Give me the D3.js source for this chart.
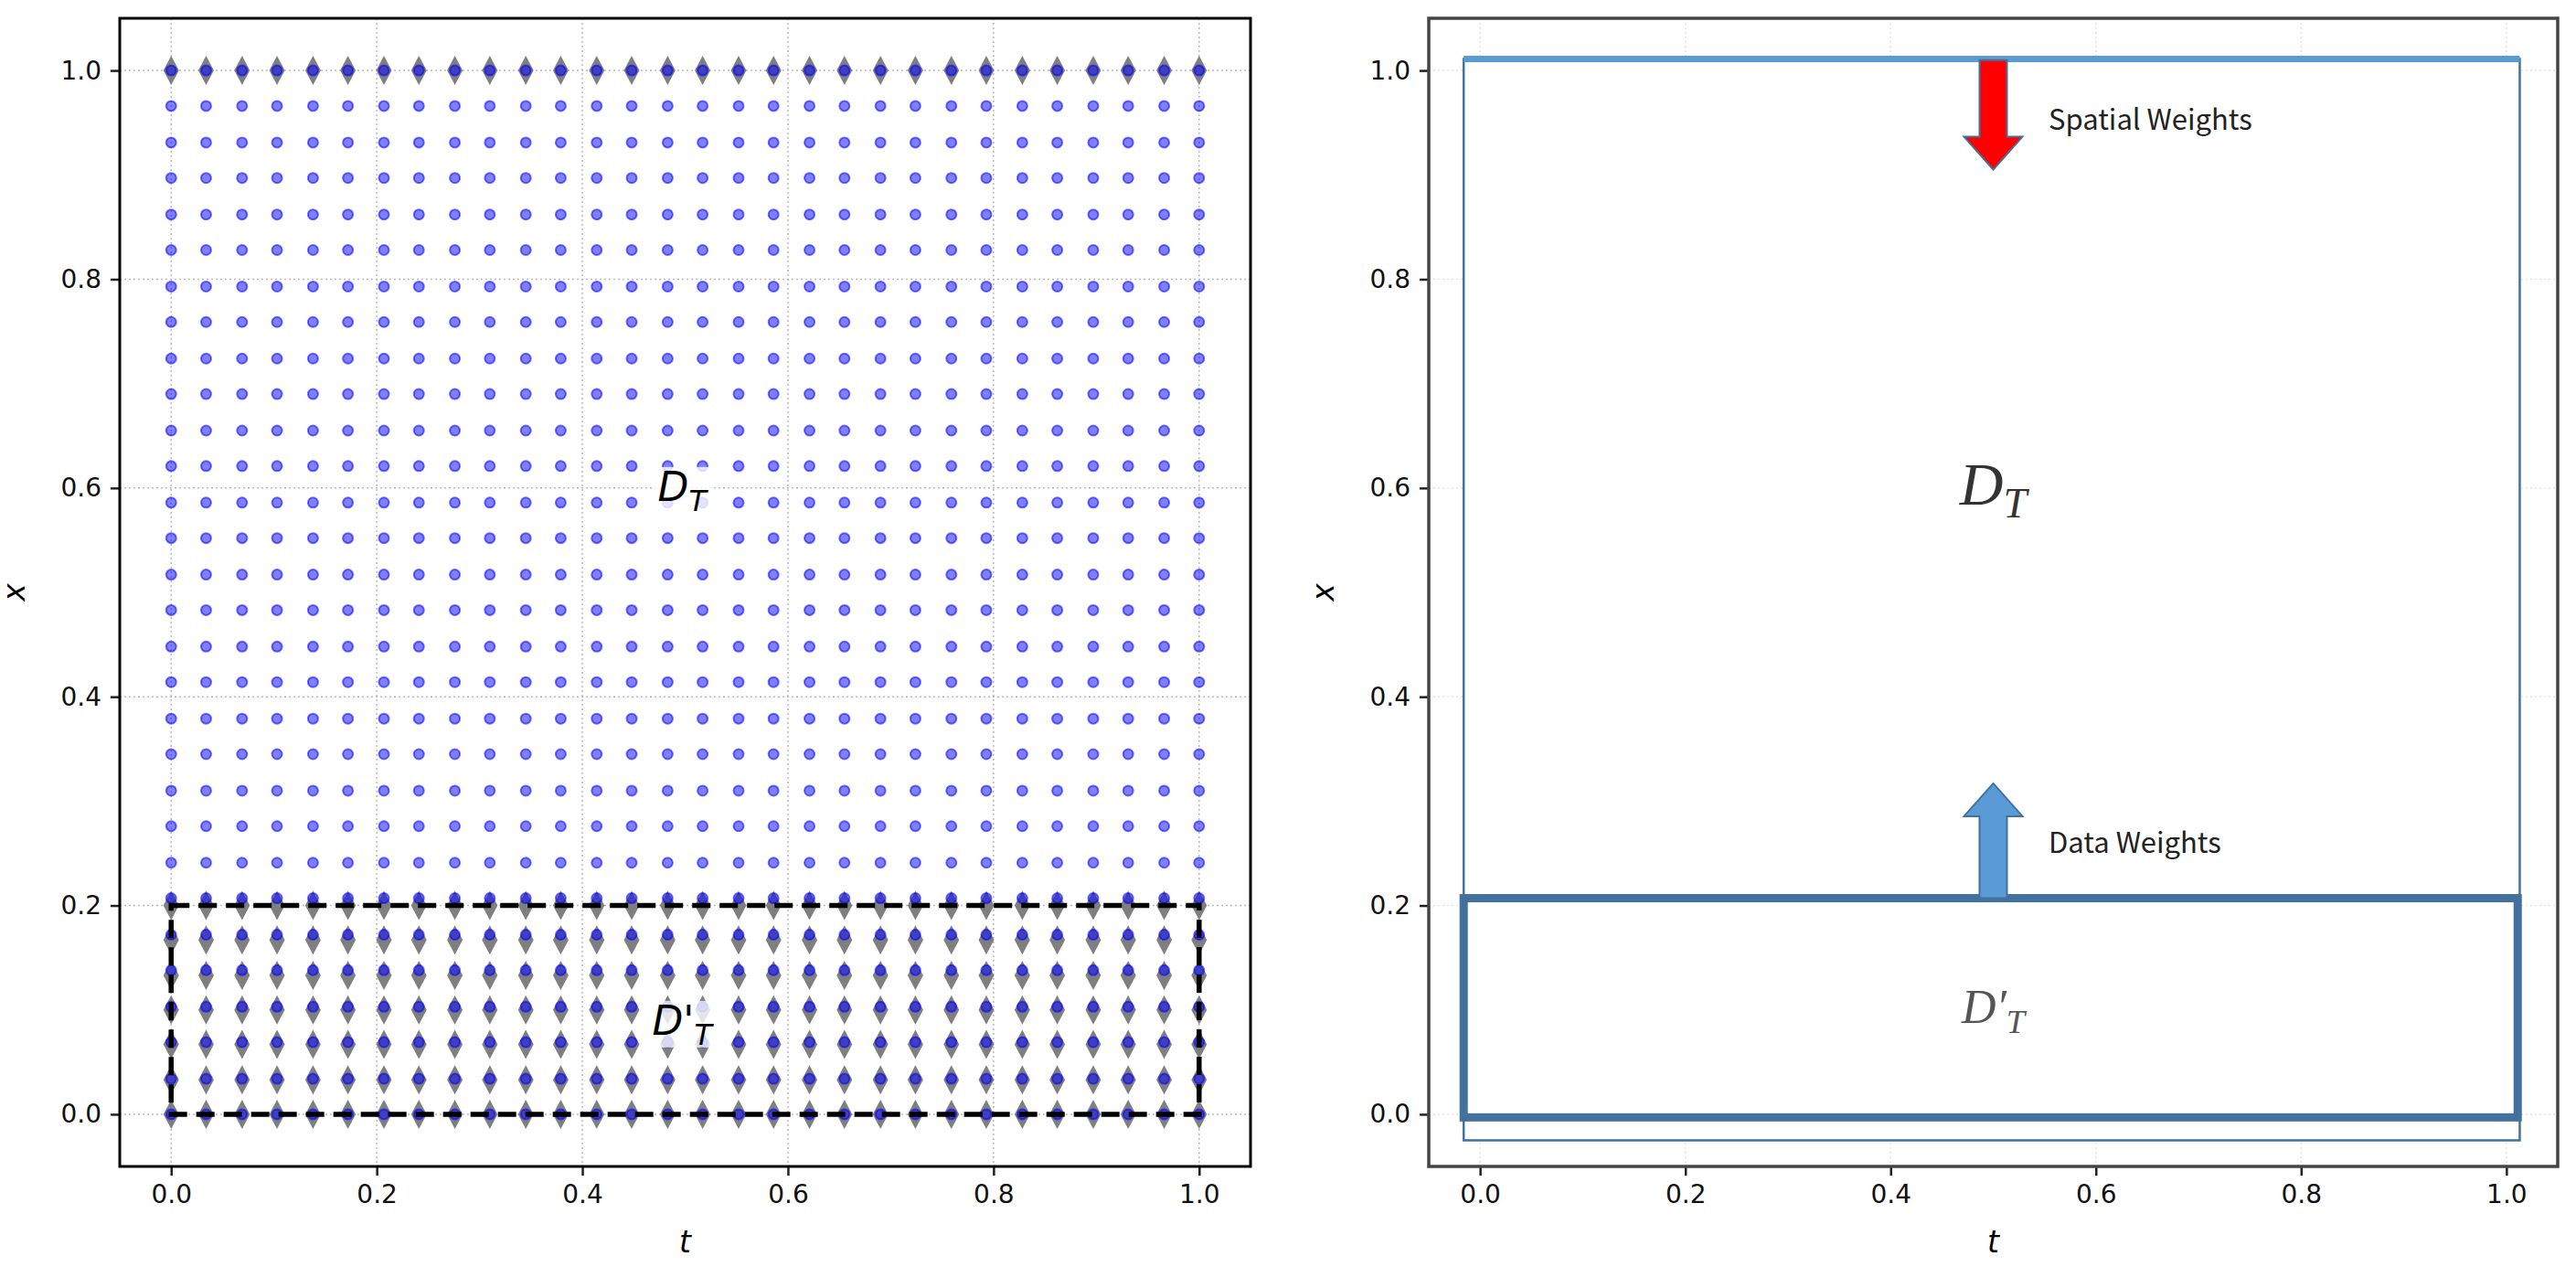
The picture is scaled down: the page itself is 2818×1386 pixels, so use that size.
<!DOCTYPE html>
<html>
<head>
<meta charset="utf-8">
<script src="https://cdn.jsdelivr.net/npm/d3@7"></script>
<style>
  body { margin: 0; background: #fff; }
  svg { font-family: "DejaVu Sans", sans-serif; }
</style>
</head>
<body>
<svg id="chart" width="2818" height="1386"></svg>
<script>
// collocation grid (same values on t and x)
var gridVals = [0, 0.034, 0.069, 0.103, 0.138, 0.172, 0.207, 0.241, 0.276, 0.310, 0.345, 0.379, 0.414, 0.448, 0.483,
                0.517, 0.552, 0.586, 0.621, 0.655, 0.690, 0.724, 0.759, 0.793, 0.828, 0.862, 0.897, 0.931, 0.966, 1];
// rows where data points sit
var dataRows = [0, 0.033, 0.067, 0.1, 0.133, 0.167, 0.2, 1.0];
var ticks = [0, 0.2, 0.4, 0.6, 0.8, 1.0];
// right panel boxes [t0, t1, x0, x1]
var outerBox = [-0.016, 1.013, -0.025, 1.011];
var dataBox = [-0.016, 1.011, -0.003, 0.207];
var spatialArrow = [0.5, 1.010, 0.905];
var dataArrow = [0.5, 0.207, 0.317];

var svg = d3.select("#chart");
var plotTop = 20, plotBottom = 1276;

function makePanel(left, right) {
  var x = d3.scaleLinear().domain([-0.05, 1.05]).range([left, right]);
  var y = d3.scaleLinear().domain([-0.05, 1.05]).range([plotBottom, plotTop]);
  return {x: x, y: y};
}

function drawGrid(p, gridColor) {
  var g = svg.append("g");
  g.selectAll(".gv").data(ticks).enter().append("line")
    .attr("x1", d => p.x(d)).attr("x2", d => p.x(d))
    .attr("y1", plotTop).attr("y2", plotBottom)
    .attr("stroke", gridColor).attr("stroke-width", 1.5).attr("stroke-dasharray", "2,3");
  g.selectAll(".gh").data(ticks).enter().append("line")
    .attr("x1", p.x.range()[0]).attr("x2", p.x.range()[1])
    .attr("y1", d => p.y(d)).attr("y2", d => p.y(d))
    .attr("stroke", gridColor).attr("stroke-width", 1.5).attr("stroke-dasharray", "2,3");
}

function drawFrame(p, spineColor, w) {
  var ax = svg.append("g").attr("transform", "translate(0," + plotBottom + ")")
    .call(d3.axisBottom(p.x).tickValues(ticks).tickFormat(d3.format(".1f")).tickSize(10).tickPadding(10));
  var ay = svg.append("g").attr("transform", "translate(" + p.x.range()[0] + ",0)")
    .call(d3.axisLeft(p.y).tickValues(ticks).tickFormat(d3.format(".1f")).tickSize(10).tickPadding(10));
  [ax, ay].forEach(function(a) {
    a.select(".domain").remove();
    a.selectAll("text").attr("font-size", 28).attr("fill", "#111").style("font-family", "DejaVu Sans");
    a.selectAll("line").attr("stroke", "#222").attr("stroke-width", 2.5);
  });
  svg.append("rect")
    .attr("x", p.x.range()[0]).attr("y", plotTop)
    .attr("width", p.x.range()[1] - p.x.range()[0]).attr("height", plotBottom - plotTop)
    .attr("fill", "none").attr("stroke", spineColor).attr("stroke-width", w);
  var cx = (p.x.range()[0] + p.x.range()[1]) / 2;
  svg.append("text").attr("x", cx).attr("y", 1370).attr("text-anchor", "middle")
    .attr("font-size", 33).attr("font-style", "italic").text("t");
  svg.append("text").attr("transform", "translate(" + (p.x.range()[0] - 104) + "," + ((plotTop + plotBottom) / 2) + ") rotate(-90)")
    .attr("text-anchor", "middle").attr("font-size", 33).attr("font-style", "italic").text("x");
}

// ---------- left panel ----------
var L = makePanel(131, 1368);
drawGrid(L, "#bbb");

var pts = [];
gridVals.forEach(function(t) { gridVals.forEach(function(v) { pts.push([t, v]); }); });
var dpts = [];
gridVals.forEach(function(t) { dataRows.forEach(function(v) { dpts.push([t, v]); }); });

// data points: thin grey diamonds
svg.append("g").selectAll("path").data(dpts).enter().append("path")
  .attr("d", function(d) {
    var cx = L.x(d[0]), cy = L.y(d[1]);
    return "M" + cx + "," + (cy - 16) + "L" + (cx + 8.5) + "," + cy + "L" + cx + "," + (cy + 16) + "L" + (cx - 8.5) + "," + cy + "Z";
  })
  .attr("fill", "#7f7f7f");

// collocation points
svg.append("g").selectAll("circle").data(pts).enter().append("circle")
  .attr("cx", d => L.x(d[0])).attr("cy", d => L.y(d[1])).attr("r", 5.5)
  .attr("fill", "rgba(0,0,255,0.5)").attr("stroke", "rgba(0,0,255,0.55)").attr("stroke-width", 2);

// dashed D'_T region
svg.append("rect")
  .attr("x", L.x(0)).attr("y", L.y(0.2))
  .attr("width", L.x(1) - L.x(0)).attr("height", L.y(0) - L.y(0.2))
  .attr("fill", "none").attr("stroke", "#000").attr("stroke-width", 5.5).attr("stroke-dasharray", "20,10");

function labelWithBox(px, py, prime, size) {
  var g = svg.append("g");
  var t = g.append("text").attr("x", px).attr("y", py).attr("text-anchor", "middle")
    .attr("font-size", size).attr("font-style", "italic");
  t.append("tspan").text("D" + prime);
  t.append("tspan").attr("font-size", size * 0.72).attr("dy", size * 0.25).text("T");
  var b = t.node().getBBox();
  g.insert("rect", "text").attr("x", b.x - 4).attr("y", b.y + 4).attr("width", b.width + 8).attr("height", b.height - 8)
    .attr("fill", "rgba(255,255,255,0.8)");
}
labelWithBox(L.x(0.497), L.y(0.6) + 14, "", 44);
labelWithBox(L.x(0.497), L.y(0.085) + 10, "'", 44);

drawFrame(L, "#000", 3);

// ---------- right panel ----------
var R = makePanel(1563, 2798);
drawGrid(R, "#e2e2e2");

svg.append("rect")
  .attr("x", R.x(outerBox[0])).attr("y", R.y(outerBox[3]))
  .attr("width", R.x(outerBox[1]) - R.x(outerBox[0])).attr("height", R.y(outerBox[2]) - R.y(outerBox[3]))
  .attr("fill", "#fff").attr("stroke", "#41719c").attr("stroke-width", 2.5);
svg.append("line")
  .attr("x1", R.x(outerBox[0])).attr("x2", R.x(outerBox[1]))
  .attr("y1", R.y(outerBox[3])).attr("y2", R.y(outerBox[3]))
  .attr("stroke", "#5b9bd5").attr("stroke-width", 7);
svg.append("rect")
  .attr("x", R.x(dataBox[0])).attr("y", R.y(dataBox[3]))
  .attr("width", R.x(dataBox[1]) - R.x(dataBox[0])).attr("height", R.y(dataBox[2]) - R.y(dataBox[3]))
  .attr("fill", "none").attr("stroke", "#41719c").attr("stroke-width", 9);

function blockArrow(a, fill) {
  var cx = R.x(a[0]), y0 = R.y(a[1]), y1 = R.y(a[2]);
  var dir = y1 > y0 ? 1 : -1, head = 36 * dir, sw = 15, hw = 32;
  var yh = y1 - head;
  var path = "M" + (cx - sw) + "," + y0 + "L" + (cx + sw) + "," + y0 + "L" + (cx + sw) + "," + yh +
    "L" + (cx + hw) + "," + yh + "L" + cx + "," + y1 + "L" + (cx - hw) + "," + yh + "L" + (cx - sw) + "," + yh + "Z";
  svg.append("path").attr("d", path).attr("fill", fill).attr("stroke", "#41719c").attr("stroke-width", 2);
}
blockArrow(spatialArrow, "#ff0000");
blockArrow(dataArrow, "#5b9bd5");

svg.append("text").attr("x", 2241).attr("y", 142).attr("font-size", 31)
  .style("font-family", "'Noto Sans CJK KR', 'Noto Sans'").attr("fill", "#222").text("Spatial Weights");
svg.append("text").attr("x", 2241).attr("y", 933).attr("font-size", 31)
  .style("font-family", "'Noto Sans CJK KR', 'Noto Sans'").attr("fill", "#222").text("Data Weights");

function serifLabel(px, py, prime, size, color) {
  var t = svg.append("text").attr("x", px).attr("y", py).attr("text-anchor", "middle")
    .attr("font-size", size).attr("font-style", "italic")
    .style("font-family", "'Liberation Serif', 'DejaVu Serif', serif")
    .attr("fill", color);
  t.append("tspan").text("D" + prime);
  t.append("tspan").attr("font-size", size * 0.7).attr("dy", size * 0.22).text("T");
}
serifLabel(R.x(0.5), R.y(0.6) + 18, "", 66, "#333");
serifLabel(R.x(0.5), R.y(0.1) + 14, "\u2032", 52, "#555");

drawFrame(R, "#444", 3.5);
</script>
</body>
</html>
